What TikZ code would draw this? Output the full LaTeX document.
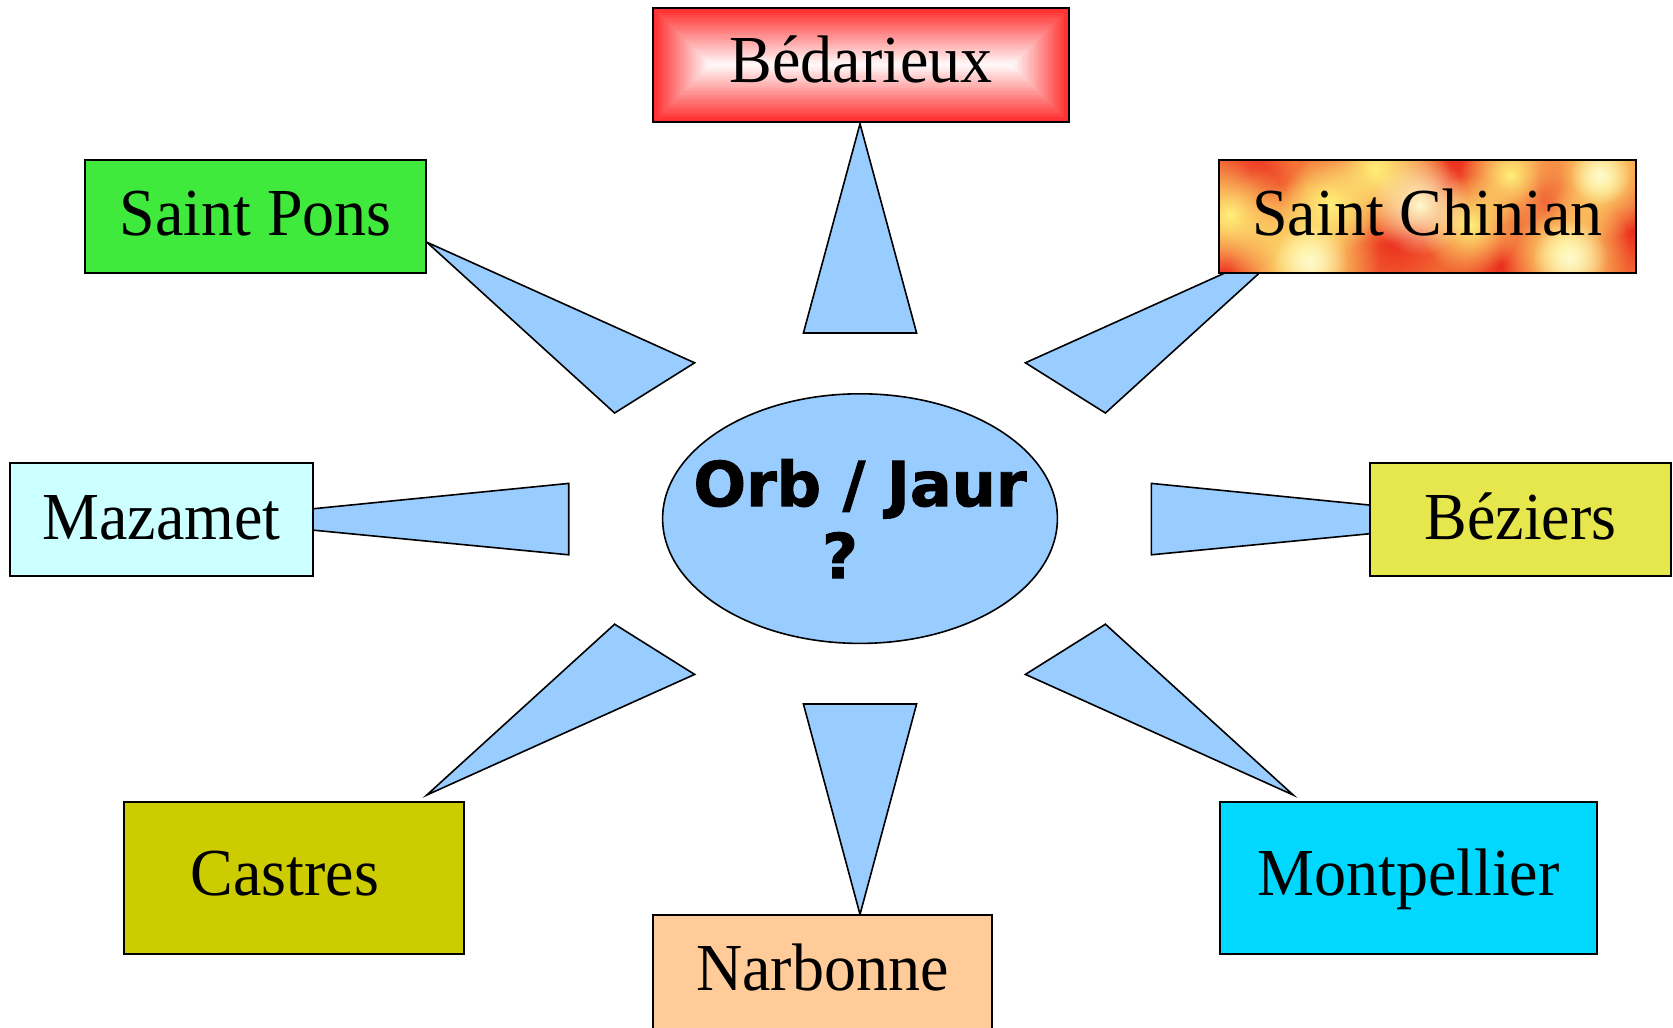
\documentclass[tikz,border=0pt]{standalone}
\usepackage{fontspec}
\usepackage{graphicx}
\setmainfont{Liberation Serif}
\newfontfamily\orbfont{DejaVu Sans}[BoldFeatures={FakeBold=1.5}]
\usetikzlibrary{shapes.geometric,fadings}
\definecolor{lb}{RGB}{153,204,255}
\definecolor{sponsc}{RGB}{64,234,60}
\definecolor{mazc}{RGB}{204,255,255}
\definecolor{bezc}{RGB}{230,230,77}
\definecolor{casc}{RGB}{204,204,0}
\definecolor{monc}{RGB}{0,216,255}
\definecolor{narc}{RGB}{255,204,153}
\definecolor{bedred}{RGB}{255,45,45}
\definecolor{fireor}{RGB}{247,140,65}
\definecolor{firered}{RGB}{236,45,30}
\definecolor{fireyel}{RGB}{255,240,120}
\definecolor{firepale}{RGB}{255,250,205}
\newcommand\stretchtxt[1]{\scalebox{1}[1.05]{#1}}
\tikzfading[name=softdot, inner color=transparent!0, outer color=transparent!100]
\begin{document}
\begin{tikzpicture}[x=0.5pt,y=-0.5pt,
  wedge/.style={fill=lb,draw=black,line width=0.8pt,line join=miter},
  city/.style={draw=black,line width=0.8pt,inner sep=0pt,outer sep=0pt,
    font=\fontsize{32}{38}\selectfont,text height=18.5pt,text depth=0pt},
  orbtext/.style={font=\orbfont\bfseries\fontsize{31}{36}\selectfont,align=center,inner sep=0pt}]
\clip (0,0) rectangle (1673,1027);
\fill[white] (0,0) rectangle (1673,1027);
% wedges
\draw[wedge] (860,123.8) -- (803.4,333) -- (916.6,333) -- cycle;
\draw[wedge] (860,914.4) -- (803.4,704) -- (916.6,704) -- cycle;
\draw[wedge] (426.8,242.2) -- (694.6,362.8) -- (614.6,413) -- cycle;
\draw[wedge] (1293.2,242.2) -- (1025.4,362.8) -- (1105.4,413) -- cycle;
\draw[wedge] (426.8,795) -- (694.6,674.4) -- (614.6,624.2) -- cycle;
\draw[wedge] (1293.2,795) -- (1025.4,674.4) -- (1105.4,624.2) -- cycle;
\draw[wedge] (203.8,519.6) -- (568.7,483.4) -- (568.7,554.8) -- cycle;
\draw[wedge] (1516.2,519.6) -- (1151.3,483.4) -- (1151.3,554.8) -- cycle;
% Bedarieux gradient
\foreach \i in {0,...,24}{
  \pgfmathsetmacro\t{\i*57/25}
  \pgfmathtruncatemacro\c{100-4*\i}
  \fill[bedred!\c!white] (653+\t,8+\t) rectangle (1069-\t,122-\t);
}
% Saint Chinian texture
\begin{scope}
\clip (1219,160) rectangle (1636,273);
\fill[fireor] (1219,160) rectangle (1636,273);
\foreach \x/\y/\r in {1395/240/85,1455/160/70,1635/230/70,1250/170/60,1500/265/60,1545/200/55,1225/270/50,1340/155/45}
  \fill[firered,path fading=softdot] (\x,\y) circle (\r);
\foreach \x/\y/\r in {1305/255/75,1375/170/75,1565/250/65,1600/180/60,1230/215/60,1330/205/50,1510/175/50,1470/225/50}
  \fill[fireyel,path fading=softdot] (\x,\y) circle (\r);
\foreach \x/\y/\r in {1420/205/50,1310/262/38,1570/258/38,1600/175/30}
  \fill[firepale,path fading=softdot] (\x,\y) circle (\r);
\end{scope}
% boxes
\node[city,minimum width=208pt,minimum height=57pt,text height=18pt] (bed) at (861,65) {\stretchtxt{Bédarieux}};
\node[city,fill=sponsc,minimum width=170.5pt,minimum height=56.5pt] (spons) at (255.5,216.5) {\stretchtxt{Saint Pons}};
\node[city,minimum width=208.5pt,minimum height=56.5pt] (schin) at (1427.5,216.5) {\stretchtxt{Saint Chinian}};
\node[city,fill=mazc,minimum width=151.5pt,minimum height=56.5pt,text height=19.5pt] (maz) at (161.5,519.5) {\stretchtxt{Mazamet}};
\node[city,fill=bezc,minimum width=150.5pt,minimum height=56.5pt,text height=19.5pt] (bez) at (1520.5,519.5) {\stretchtxt{Béziers}};
\node[city,fill=casc,minimum width=170pt,minimum height=76pt,text height=17.5pt] (cas) at (294,878) {\stretchtxt{Castres}\kern9pt};
\node[city,fill=monc,minimum width=188.5pt,minimum height=76pt,text height=17.5pt] (mon) at (1408.5,878) {\stretchtxt{Montpellier}};
\node[city,fill=narc,minimum width=169.5pt,minimum height=60pt,text height=15pt] (nar) at (822.5,975) {\stretchtxt{Narbonne}};
% centre
\node[ellipse,draw=black,fill=lb,line width=0.8pt,minimum width=197.4pt,minimum height=124.8pt,inner sep=0pt] (orb) at (860,518.6) {};
\node[orbtext] (orbtxt) at (orb.center) {Orb / Jaur\\?\kern20pt};
\end{tikzpicture}
\end{document}
